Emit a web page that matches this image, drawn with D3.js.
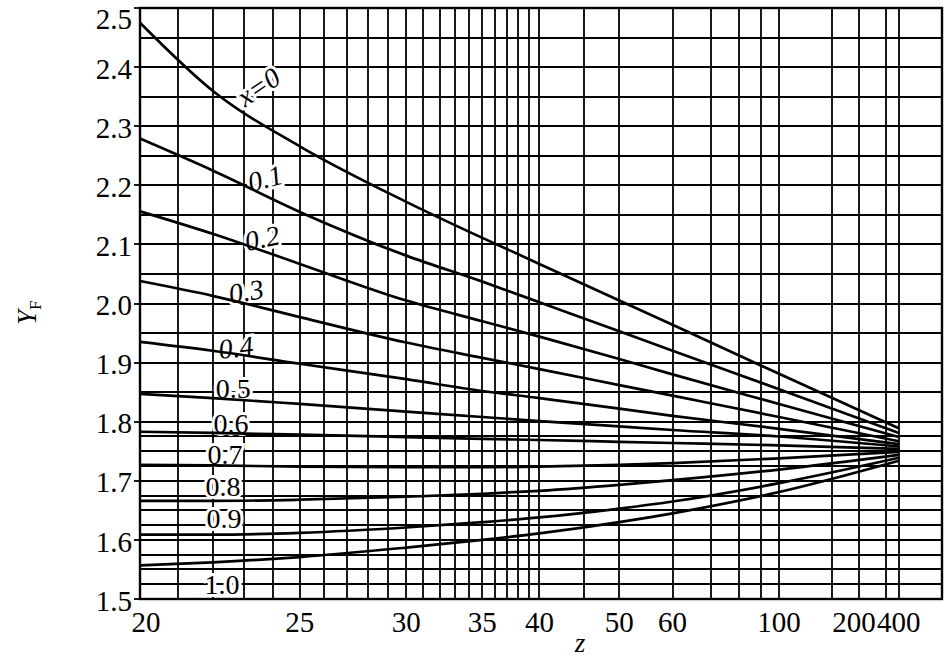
<!DOCTYPE html>
<html>
<head>
<style>
  body {
    margin: 0;
    background-color: #ffffff;
  }

  text {
    font-family: "Liberation Serif", "Times New Roman", serif;
    fill: #000;
  }
</style>
<script src="https://d3js.org/d3.v7.min.js"></script>
</head>
<body>
<script>
// tooth form factor Y_F against number of teeth z (1/z scale), one curve per shift x

const zValues = [20, 22, 25, 30, 35, 40, 50, 60, 100, 400];

const shiftLabels = ['x=0', '0.1', '0.2', '0.3', '0.4', '0.5', '0.6', '0.7', '0.8', '0.9', '1.0'];

const yfX00 = [2.475, 2.360, 2.266, 2.172, 2.111, 2.067, 2.005, 1.964, 1.881, 1.789];
const yfX01 = [2.279, 2.225, 2.155, 2.081, 2.037, 2.002, 1.953, 1.920, 1.855, 1.781];
const yfX02 = [2.156, 2.118, 2.067, 2.005, 1.970, 1.944, 1.906, 1.880, 1.830, 1.774];
const yfX03 = [2.038, 2.013, 1.977, 1.934, 1.908, 1.889, 1.862, 1.844, 1.808, 1.767];
const yfX04 = [1.935, 1.920, 1.898, 1.872, 1.852, 1.840, 1.822, 1.810, 1.788, 1.762];
const yfX05 = [1.847, 1.840, 1.830, 1.817, 1.808, 1.801, 1.792, 1.786, 1.775, 1.758];
const yfX06 = [1.783, 1.781, 1.778, 1.774, 1.771, 1.769, 1.766, 1.764, 1.760, 1.754];
const yfX07 = [1.727, 1.726, 1.724, 1.723, 1.723, 1.724, 1.727, 1.730, 1.738, 1.749];
const yfX08 = [1.666, 1.666, 1.668, 1.673, 1.678, 1.683, 1.693, 1.701, 1.719, 1.744];
const yfX09 = [1.609, 1.609, 1.612, 1.621, 1.630, 1.638, 1.653, 1.665, 1.696, 1.739];
const yfX10 = [1.557, 1.562, 1.571, 1.587, 1.600, 1.611, 1.630, 1.645, 1.681, 1.734];

// where each curve label sits, in chart units (z, Y_F), and its tilt
const labelZ = [23.48, 23.71, 23.61, 23.06, 22.73, 22.64, 22.57, 22.38, 22.32, 22.35, 22.29];
const labelY = [2.367, 2.212, 2.111, 2.021, 1.926, 1.857, 1.798, 1.745, 1.691, 1.637, 1.525];
const labelTilt = [-34, -15, -12, -10, -7, 0, 0, 0, 0, 0, 0];

const zTicks = [20, 25, 30, 35, 40, 50, 60, 100, 200, 400];
const zGrid = d3.range(21, 41).concat([45, 50, 60, 70, 80, 90, 100, 150, 200, 300, 400]);
const yTicks = d3.range(15, 26).map((d) => d / 10);
const yGrid = d3.range(30, 51).map((d) => d / 20).concat(d3.range(61, 72, 2).map((d) => d / 40));

const series = [yfX00, yfX01, yfX02, yfX03, yfX04, yfX05, yfX06, yfX07, yfX08, yfX09, yfX10];

const width = 944;
const height = 659;
const margin = { top: 8, right: 2, bottom: 60, left: 140 };

const svg = d3.select('body')
  .append('svg')
  .attr('width', width)
  .attr('height', height);

svg.append('rect')
  .attr('width', width)
  .attr('height', height)
  .attr('fill', '#fff');

// the horizontal axis is linear in 1/z
const x = d3.scaleLinear()
  .domain([1 / 20, -0.0002])
  .range([margin.left, width - margin.right]);
const xz = (z) => x(1 / z);

const y = d3.scaleLinear()
  .domain([1.5, 2.5])
  .range([height - margin.bottom, margin.top]);

const grid = svg.append('g')
  .attr('stroke', '#000')
  .attr('stroke-width', 1.8);

grid.selectAll('line.v')
  .data(zGrid)
  .join('line')
  .attr('class', 'v')
  .attr('x1', (d) => Math.round(xz(d)))
  .attr('x2', (d) => Math.round(xz(d)))
  .attr('y1', y(2.5))
  .attr('y2', y(1.5));

grid.selectAll('line.h')
  .data(yGrid)
  .join('line')
  .attr('class', 'h')
  .attr('x1', x.range()[0])
  .attr('x2', x.range()[1])
  .attr('y1', (d) => Math.round(y(d)))
  .attr('y2', (d) => Math.round(y(d)));

// outward ticks on the Y_F axis
grid.selectAll('line.t')
  .data(yTicks)
  .join('line')
  .attr('class', 't')
  .attr('x1', x.range()[0] - 6)
  .attr('x2', x.range()[0])
  .attr('y1', (d) => Math.round(y(d)))
  .attr('y2', (d) => Math.round(y(d)));

// frame
svg.append('rect')
  .attr('x', x.range()[0])
  .attr('y', y(2.5))
  .attr('width', x.range()[1] - x.range()[0])
  .attr('height', y(1.5) - y(2.5))
  .attr('fill', 'none')
  .attr('stroke', '#000')
  .attr('stroke-width', 2.4);

// curve labels, white halo hides the grid behind them
svg.selectAll('text.curve-label')
  .data(shiftLabels)
  .join('text')
  .attr('class', 'curve-label')
  .attr('transform', (d, i) => `translate(${xz(labelZ[i])},${y(labelY[i])}) rotate(${labelTilt[i]})`)
  .attr('text-anchor', 'middle')
  .attr('dy', '0.35em')
  .attr('font-size', 28)
  .attr('font-style', (d, i) => (i < 5 ? 'italic' : 'normal'))
  .attr('stroke', '#fff')
  .attr('stroke-width', 6)
  .attr('paint-order', 'stroke')
  .text((d) => d);

const line = d3.line()
  .x((d) => xz(d[0]))
  .y((d) => y(d[1]))
  .curve(d3.curveMonotoneX);

svg.selectAll('path.curve')
  .data(series)
  .join('path')
  .attr('class', 'curve')
  .attr('fill', 'none')
  .attr('stroke', '#000')
  .attr('stroke-width', 2.7)
  .attr('d', (s) => line(zValues.map((z, i) => [z, s[i]])));

// tick labels
svg.selectAll('text.ylab')
  .data(yTicks)
  .join('text')
  .attr('class', 'ylab')
  .attr('x', x.range()[0] - 8)
  .attr('y', (d) => Math.max(y(d), 17))
  .attr('dy', '0.4em')
  .attr('text-anchor', 'end')
  .attr('font-size', 29)
  .text((d) => d3.format('.1f')(d));

svg.selectAll('text.xlab')
  .data(zTicks)
  .join('text')
  .attr('class', 'xlab')
  .attr('x', (d, i) => xz(d) + (i === 0 ? 6 : 0) + (d === 200 ? -5 : 0))
  .attr('y', y(1.5) + 33)
  .attr('text-anchor', 'middle')
  .attr('font-size', 29)
  .text((d) => d);

// axis titles
svg.append('text')
  .attr('x', 580)
  .attr('y', 652)
  .attr('text-anchor', 'middle')
  .attr('font-size', 27)
  .attr('font-style', 'italic')
  .text('z');

const yTitle = svg.append('text')
  .attr('transform', 'translate(36,325) rotate(-90)')
  .attr('font-size', 27);
yTitle.append('tspan')
  .attr('font-style', 'italic')
  .text('Y');
yTitle.append('tspan')
  .attr('font-size', 17)
  .attr('dy', 5)
  .text('F');
</script>
</body>
</html>
